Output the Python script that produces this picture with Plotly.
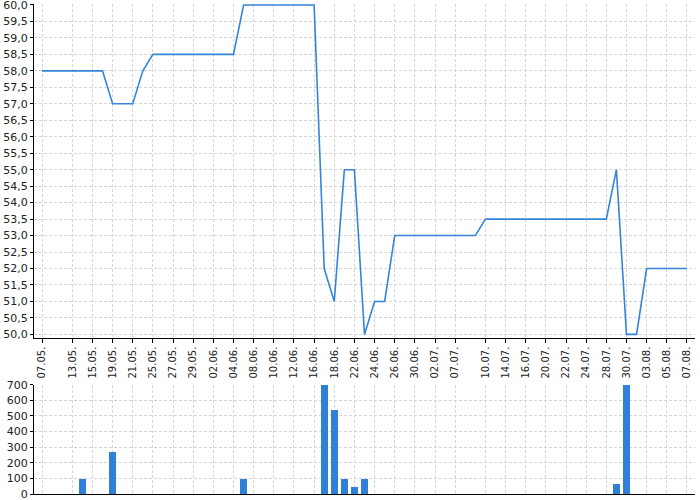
import plotly.graph_objects as go

# Trading days (category positions) and the labels shown under the axis.
dates = ['07.05.', '08.05.', '12.05.', '13.05.', '14.05.', '15.05.', '18.05.', '19.05.',
         '20.05.', '21.05.', '22.05.', '25.05.', '26.05.', '27.05.', '28.05.', '29.05.',
         '01.06.', '02.06.', '03.06.', '04.06.', '05.06.', '08.06.', '09.06.', '10.06.',
         '11.06.', '12.06.', '15.06.', '16.06.', '17.06.', '18.06.', '19.06.', '22.06.',
         '23.06.', '24.06.', '25.06.', '26.06.', '29.06.', '30.06.', '01.07.', '02.07.',
         '03.07.', '07.07.', '08.07.', '09.07.', '10.07.', '13.07.', '14.07.', '15.07.',
         '16.07.', '17.07.', '20.07.', '21.07.', '22.07.', '23.07.', '24.07.', '27.07.',
         '28.07.', '29.07.', '30.07.', '31.07.', '03.08.', '04.08.', '05.08.', '06.08.',
         '07.08.']

shown_labels = ['07.05.', '13.05.', '15.05.', '19.05.', '21.05.', '25.05.', '27.05.', '29.05.',
                '02.06.', '04.06.', '08.06.', '10.06.', '12.06.', '16.06.', '18.06.', '22.06.',
                '24.06.', '26.06.', '30.06.', '02.07.', '07.07.', '10.07.', '14.07.', '16.07.',
                '20.07.', '22.07.', '24.07.', '28.07.', '30.07.', '03.08.', '05.08.', '07.08.']

prices = ([58.0] * 7 + [57.0] * 3 + [58.0] + [58.5] * 9 + [60.0] * 8 + [52.0, 51.0]
          + [55.0] * 2 + [50.0] + [51.0] * 2 + [53.0] * 9 + [53.5] * 13 + [55.0]
          + [50.0] * 2 + [52.0] * 5)

volumes = [0] * 65
volume_days = {4: 100, 7: 270, 20: 100, 28: 700, 29: 540, 30: 100, 31: 45,
               32: 100, 57: 65, 58: 700}
for i, v in volume_days.items():
    volumes[i] = v

x = list(range(len(dates)))
tickvals = [dates.index(d) for d in shown_labels]

blue = '#3484d9'
grid = '#d6d6d6'
dash = '3px,2px'

fig = go.Figure()
fig.add_trace(go.Scatter(x=x, y=prices, mode='lines',
                         line=dict(color=blue, width=1.6),
                         xaxis='x', yaxis='y', showlegend=False))
fig.add_trace(go.Bar(x=x, y=volumes, width=0.72,
                     marker=dict(color='#2f80d8', line=dict(width=0)),
                     xaxis='x2', yaxis='y2', showlegend=False))

common_x = dict(range=[-0.8, 64.8], tickmode='array', tickvals=tickvals,
                showgrid=True, gridcolor=grid, griddash=dash, gridwidth=1,
                showline=True, linecolor='black', linewidth=1, zeroline=False,
                automargin=False, ticklabeloverflow='allow')

common_y = dict(tickmode='array', ticks='outside', ticklen=3, tickcolor='black',
                showgrid=True, gridcolor=grid, griddash=dash,
                showline=True, linecolor='black', zeroline=False,
                automargin=False, ticklabeloverflow='allow')

fig.update_layout(
    width=700, height=500,
    margin=dict(l=34, r=5, t=4, b=6),
    plot_bgcolor='white', paper_bgcolor='white',
    separators=', ',
    font=dict(family='DejaVu Sans', size=11, color='#222'),
    bargap=0,
    xaxis=dict(domain=[0, 1], anchor='y', ticktext=shown_labels, tickangle=-90,
               ticks='outside', ticklen=4, tickcolor='black',
               tickfont=dict(size=10), **common_x),
    yaxis=dict(domain=[0.319, 1], anchor='x', range=[49.9, 60.03],
               tickvals=[50 + 0.5 * k for k in range(21)], tickformat='.1f',
               **common_y),
    xaxis2=dict(domain=[0, 1], anchor='y2', showticklabels=False, **common_x),
    yaxis2=dict(domain=[0, 0.223], anchor='x2', range=[0, 700],
                tickvals=list(range(0, 701, 100)), **common_y),
)

# Drop the page's default body margin so the 700x500 figure fills the window.
fig.write_html("out.html", config={'displayModeBar': False},
               post_script="document.body.style.margin='0';")
